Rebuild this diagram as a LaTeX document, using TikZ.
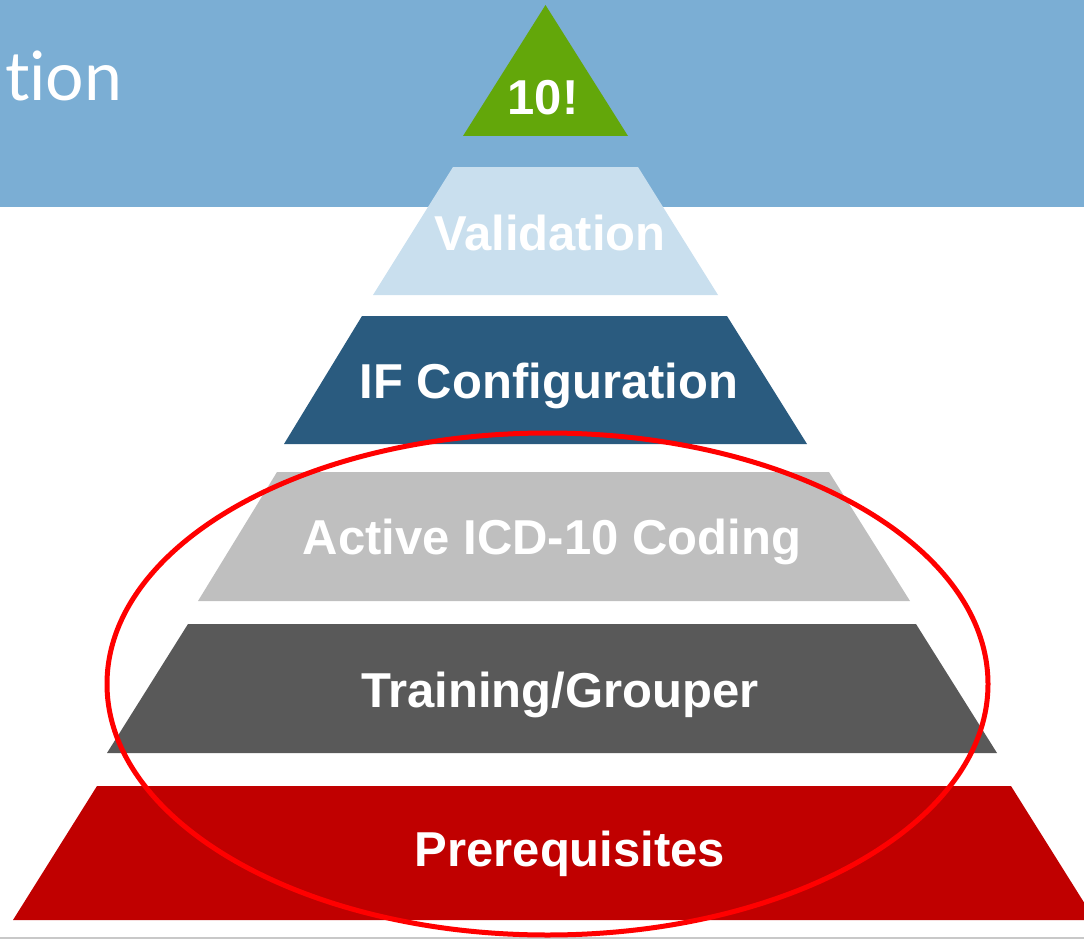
\documentclass[tikz,border=0pt]{standalone}
\usepackage{fontspec}
\setmainfont{Liberation Sans}
\newfontfamily\headfont[Ligatures=NoCommon]{Lato}
\definecolor{headblue}{HTML}{7BAED4}
\definecolor{tipgreen}{HTML}{63A70A}
\definecolor{palebl}{HTML}{C9DFEE}
\definecolor{deepbl}{HTML}{2A5B7F}
\definecolor{lightgr}{HTML}{BFBFBF}
\definecolor{darkgr}{HTML}{595959}
\definecolor{baseRed}{HTML}{C00000}
\definecolor{rule}{HTML}{C8C8C8}
\tikzset{
	lvltext/.style={text=white, inner sep=0pt, anchor=base, font=\fontsize{49}{55}\selectfont\bfseries},
}

\begin{document}
\begin{tikzpicture}[x=1pt,y=-1pt]
		\useasboundingbox (0,0) rectangle (1084,939);
		\clip (0,0) rectangle (1084,939);
		%
		%header band
		\fill[headblue] (0,0) rectangle (1084,207);
		\node[anchor=base west, inner sep=0pt, text=white, font=\headfont\fontsize{68}{76}\selectfont] (title) at (5,101) {tion};
		\fill[rule] (0,937) rectangle (1084,939);
		%
		%
		\fill[tipgreen] (545.5,5) -- (628,136) -- (463,136) -- cycle;
		\node[lvltext] (tip) at (543,115) {10!};
		%
		\fill[palebl] (453,167) -- (638,167) -- (718,295) -- (373,295) -- cycle;
		\node[lvltext] (valid) at (550,250) {Validation};
		%
		\fill[deepbl] (362,316) -- (727,316) -- (807,444) -- (284,444) -- cycle;
		\node[lvltext] (config) at (549,398) {IF Configuration};
		%
		\fill[lightgr] (277,472) -- (829,472) -- (910,601) -- (198,601) -- cycle;
		\node[lvltext] (coding) at (552,554) {Active ICD-10 Coding};
		%
		\fill[darkgr] (188,624) -- (916,624) -- (997,753) -- (107,753) -- cycle;
		\node[lvltext] (train) at (560,707) {Training/Grouper};
		%
		\fill[baseRed] (97,786) -- (1011,786) -- (1095,920) -- (13,920) -- cycle;
		\node[lvltext] (prereq) at (570,866) {Prerequisites};
		%
		%draw ellipse
		\draw[red, line width=5pt] (547.5,684) ellipse [x radius=440.5, y radius=251];
	\end{tikzpicture}
\end{document}
